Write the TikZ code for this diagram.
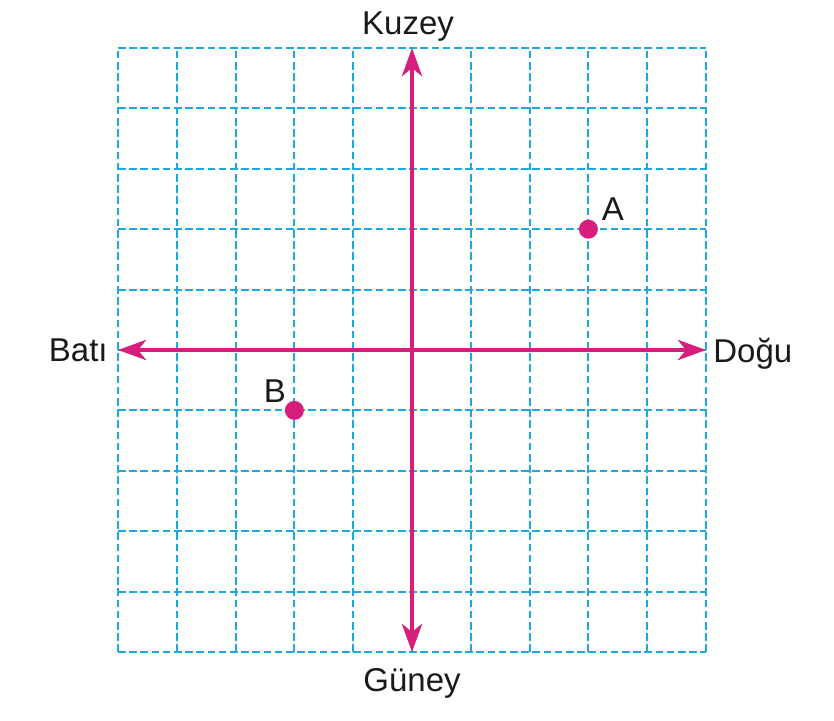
\documentclass[tikz,border=0pt]{standalone}
\usepackage{fontspec}
\setmainfont{Liberation Sans}
\usetikzlibrary{arrows.meta,positioning}
\definecolor{axispink}{HTML}{D81E7C}
\definecolor{gridblue}{HTML}{1FA8DF}
\definecolor{ink}{HTML}{1A1A1A}

\begin{document}
\begin{tikzpicture}[
  x=29.4pt,y=30.2pt,
  text=ink,
  font=\fontsize{16.5}{19}\selectfont,
  gridline/.style={gridblue,line width=1pt,dash pattern=on 3.8pt off 1.8pt},
  axis/.style={{Stealth[length=14pt,width=10pt,inset=4pt]}-{Stealth[length=14pt,width=10pt,inset=4pt]},axispink,line width=2.2pt},
  dot/.style={circle,fill=axispink,inner sep=0pt,minimum size=9.5pt},
  label/.style={inner sep=0pt}
]
  \useasboundingbox (-7.007,-6.126) rectangle (7.177,5.795);
  \foreach \i in {-5,...,5} {
    \draw[gridline] (\i,-5) -- (\i,5);
    \draw[gridline] (-5,\i) -- (5,\i);
  }

  \coordinate (north) at (0,5);
  \coordinate (south) at (0,-5);
  \coordinate (west) at (-5,0);
  \coordinate (east) at (5,0);

  \draw[axis] (west) -- (east);
  \draw[axis] (south) -- (north);

  \node[label,above=3pt of north,xshift=-2pt] (kuzey) {Kuzey};
  \node[label,below=8pt of south] (guney) {Güney};
  \node[label,left=5pt of west] (bati) {Batı};
  \node[label,right=3.5pt of east,yshift=-2pt] (dogu) {Doğu};

  \node[dot] (a) at (3,2) {};
  \node[dot] (b) at (-2,-1) {};
  \node[label,above right=4pt and 6.5pt of a.center] (alab) {A};
  \node[label,above left=4pt and 4pt of b.center] (blab) {B};
\end{tikzpicture}
\end{document}
